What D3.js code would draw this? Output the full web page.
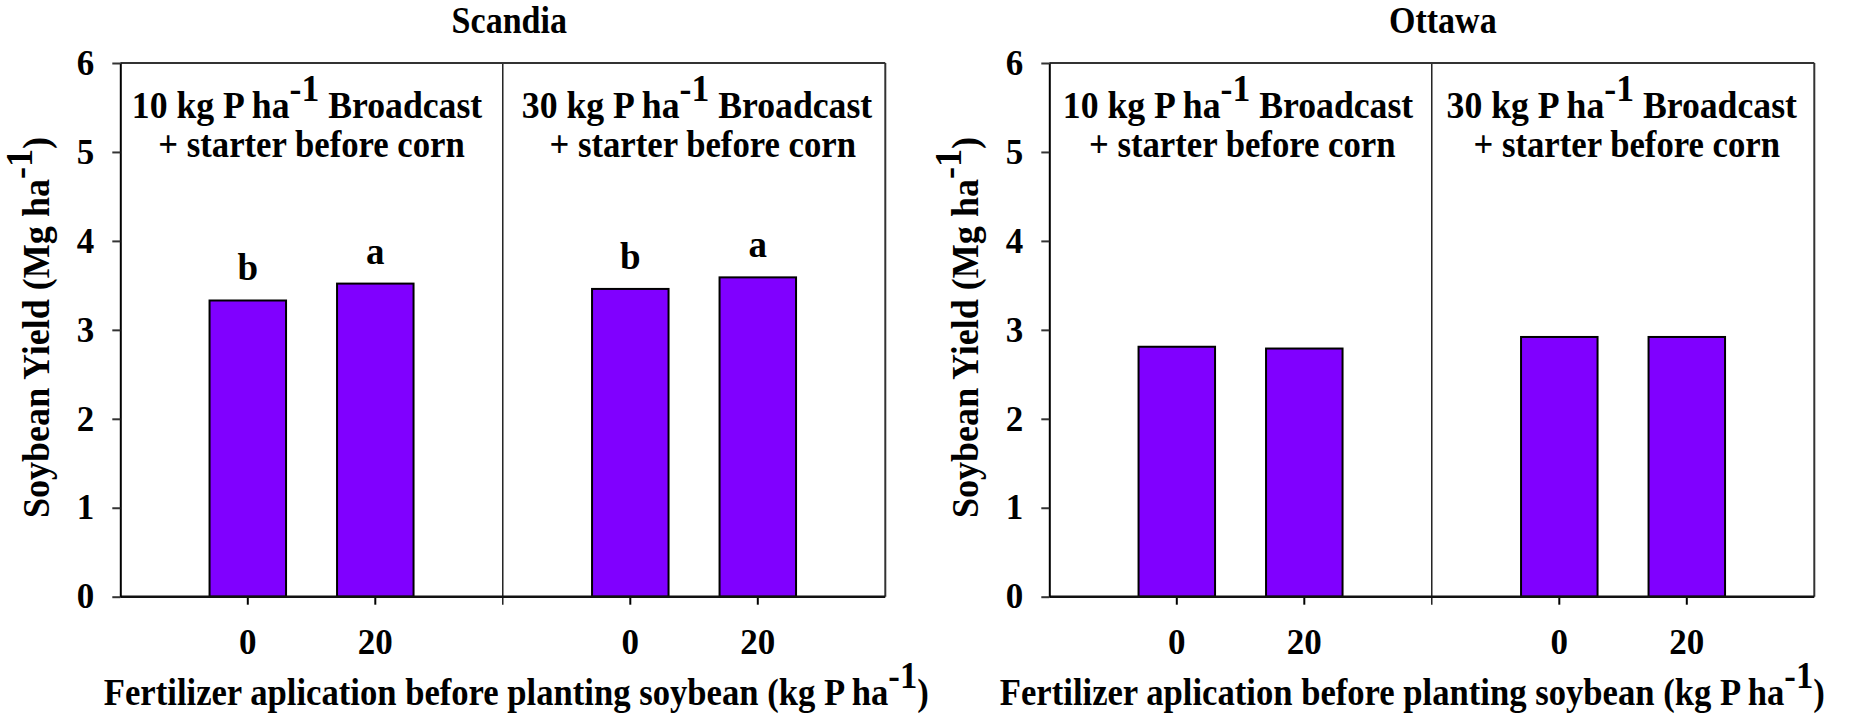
<!DOCTYPE html>
<html>
<head>
<meta charset="utf-8">
<script src="https://cdn.jsdelivr.net/npm/d3@7"></script>
<style>
  html, body { margin: 0; padding: 0; background: #ffffff; }
  svg text { font-family: "Liberation Serif", "Times New Roman", serif; font-weight: bold; fill: #000; }
</style>
</head>
<body>
<svg id="chart" width="1849" height="713"></svg>
<script>
// ---- data ----
const sites = ["Scandia", "Ottawa"];
const rates = ["0", "20"];                 // P applied before planting soybean, kg P/ha
const treatments = ["10", "30"];           // broadcast P rate before corn, kg P/ha
const scandia10 = [3.33, 3.52];
const scandia30 = [3.46, 3.59];
const ottawa10 = [2.81, 2.79];
const ottawa30 = [2.92, 2.92];
const scandia10Letters = ["b", "a"];
const scandia30Letters = ["b", "a"];
const ottawa10Letters = ["", ""];
const ottawa30Letters = ["", ""];
const yTicks = [0, 1, 2, 3, 4, 5, 6];

const yields = { Scandia: [scandia10, scandia30], Ottawa: [ottawa10, ottawa30] };
const letters = { Scandia: [scandia10Letters, scandia30Letters], Ottawa: [ottawa10Letters, ottawa30Letters] };

// ---- layout ----
const panelLeft = [120.3, 1049.3];
const panelWidth = 765;
const plotTop = 63, plotBottom = 596.7;
const titleShift = [6.5, 11];
const xTitleShift = [13.5, -19.5];
const headShift1 = [[-4.5, 3], [-2.5, -1.3]];
const headShift2 = [[0, 8.7], [1.7, 3.7]];
const fontSize = 37;
const barColor = "#8000ff";

const svg = d3.select("#chart");
const y = d3.scaleLinear().domain([0, 6]).range([plotBottom, plotTop]);

function condensedText(g, x, yPos, k, rotate, size) {
  return g.append("text")
    .attr("text-anchor", "middle")
    .attr("font-size", size || fontSize)
    .attr("transform", `translate(${x},${yPos})` + (rotate ? ` rotate(${rotate})` : "") + ` scale(${k},1)`);
}

function withSuperscript(t, before, after) {
  t.append("tspan").text(before);
  t.append("tspan").attr("dy", "-0.45em").text("-1");
  t.append("tspan").attr("dy", "0.45em").text(after);
}

sites.forEach((site, si) => {
  const x0 = panelLeft[si];
  const x1 = x0 + panelWidth;
  const sub = panelWidth / 2;
  const g = svg.append("g");

  // site title
  condensedText(g, (x0 + x1) / 2 + titleShift[si], 33, 0.92).text(site);

  // two sub-panels, one per broadcast treatment
  treatments.forEach((tr, ti) => {
    const sx0 = x0 + ti * sub, sx1 = sx0 + sub;
    const x = d3.scaleBand().domain(rates).range([sx0, sx1]).paddingInner(0.4).paddingOuter(0.7);
    const vals = yields[site][ti];
    const lets = letters[site][ti];

    g.selectAll(null).data(rates).enter().append("rect")
      .attr("x", d => x(d))
      .attr("width", x.bandwidth())
      .attr("y", (d, i) => y(vals[i]))
      .attr("height", (d, i) => y(0) - y(vals[i]))
      .attr("fill", barColor)
      .attr("stroke", "#000")
      .attr("stroke-width", 2);

    g.selectAll(null).data(rates).enter().append("text")
      .attr("x", d => x(d) + x.bandwidth() / 2)
      .attr("y", (d, i) => y(vals[i]) - 20)
      .attr("text-anchor", "middle")
      .attr("font-size", fontSize)
      .text((d, i) => lets[i]);

    // treatment header
    const cx = (sx0 + sx1) / 2;
    const h1 = condensedText(g, cx + headShift1[si][ti], 118, 0.965);
    withSuperscript(h1, `${tr} kg P ha`, " Broadcast");
    condensedText(g, cx + headShift2[si][ti], 157, 0.938).text("+ starter before corn");

    // x axis for this sub-panel
    const ax = g.append("g")
      .attr("transform", `translate(0,${plotBottom})`)
      .call(d3.axisBottom(x).tickSize(8).tickPadding(24.5).tickSizeOuter(0));
    ax.select(".domain").remove();
    ax.selectAll("line").attr("stroke", "#000").attr("stroke-width", 2);
    ax.selectAll("text").attr("font-size", 35).attr("font-family", null);
  });

  // divider between sub-panels, with its tick below the axis
  g.append("line")
    .attr("x1", x0 + sub).attr("x2", x0 + sub)
    .attr("y1", plotTop).attr("y2", plotBottom + 8)
    .attr("stroke", "#000").attr("stroke-width", 1.3);

  // frame: top and right in dark grey, bottom axis in black
  g.append("line").attr("x1", x0).attr("x2", x1).attr("y1", plotTop).attr("y2", plotTop)
    .attr("stroke", "#333").attr("stroke-width", 2);
  g.append("line").attr("x1", x1).attr("x2", x1).attr("y1", plotTop).attr("y2", plotBottom)
    .attr("stroke", "#333").attr("stroke-width", 2);
  g.append("line").attr("x1", x0).attr("x2", x1).attr("y1", plotBottom).attr("y2", plotBottom)
    .attr("stroke", "#111").attr("stroke-width", 2.4);

  // y axis
  const ay = g.append("g")
    .attr("transform", `translate(${x0},0)`)
    .call(d3.axisLeft(y).tickValues(yTicks).tickFormat(d3.format("d")).tickSize(8).tickPadding(18).tickSizeOuter(0));
  ay.select(".domain").attr("stroke", "#000").attr("stroke-width", 2);
  ay.selectAll("line").attr("stroke", "#333").attr("stroke-width", 2);
  ay.selectAll("text").attr("font-size", 35).attr("font-family", null);

  // axis titles
  const yt = condensedText(g, x0 - 71, 327.5, 0.95, -90, 38);
  withSuperscript(yt, "Soybean Yield (Mg ha", ")");
  const xt = condensedText(g, (x0 + x1) / 2 + xTitleShift[si], 705, 0.936);
  withSuperscript(xt, "Fertilizer aplication before planting soybean (kg P ha", ")");
});
</script>
</body>
</html>
